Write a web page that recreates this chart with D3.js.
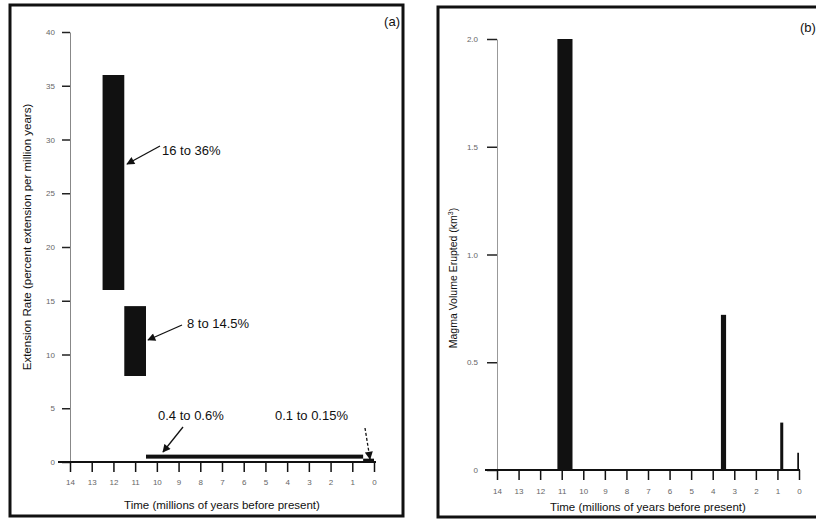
<!DOCTYPE html>
<html>
<head>
<meta charset="utf-8">
<script src="https://cdn.jsdelivr.net/npm/d3@7"></script>
<style>
  body { margin: 0; background: #fff; }
  svg { font-family: "Liberation Sans", Arial, sans-serif; }
  .tick text { fill: #666; font-size: 8px; }
</style>
</head>
<body>
<svg id="chart" width="816" height="520"></svg>
<script>
// time axis ticks (millions of years before present)
const timeTicks = [14, 13, 12, 11, 10, 9, 8, 7, 6, 5, 4, 3, 2, 1, 0];

// panel (a) extension rate ranges
const extStart = [12.5, 11.5, 10.5, 0.5];
const extEnd = [11.5, 10.5, 0.5, 0];
const extLow = [16, 8, 0.4, 0.1];
const extHigh = [36, 14.5, 0.6, 0.15];
const extLabels = ["16 to 36%", "8 to 14.5%", "0.4 to 0.6%", "0.1 to 0.15%"];
const extTicks = [0, 5, 10, 15, 20, 25, 30, 35, 40];

// panel (b) erupted magma volume
const magmaStart = [11.2, 3.62, 0.87, 0.08];
const magmaEnd = [10.5, 3.38, 0.73, 0.0];
const magmaVolume = [2.0, 0.72, 0.22, 0.08];
const magmaTicks = [0, 0.5, 1.0, 1.5, 2.0];
const magmaTickLabels = ["0", "0.5", "1.0", "1.5", "2.0"];

const svg = d3.select("#chart");

svg.append("defs").append("marker")
  .attr("id", "arrow")
  .attr("viewBox", "0 0 10 10")
  .attr("refX", 9).attr("refY", 5)
  .attr("markerWidth", 10).attr("markerHeight", 8)
  .attr("markerUnits", "userSpaceOnUse")
  .attr("orient", "auto")
  .append("path").attr("d", "M0,0 L10,5 L0,10 z").attr("fill", "#111");

// ---------- panel (a) ----------
const gA = svg.append("g");
gA.append("rect").attr("x", 10).attr("y", 5).attr("width", 393).attr("height", 511)
  .attr("fill", "none").attr("stroke", "#111").attr("stroke-width", 3);

const xA = d3.scaleLinear().domain([14, 0]).range([70, 374]);
const yA = d3.scaleLinear().domain([0, 40]).range([462, 32]);

const yAxisA = gA.append("g").attr("transform", "translate(70,0)")
  .call(d3.axisLeft(yA).tickValues(extTicks).tickSize(8).tickSizeOuter(0).tickPadding(7));
yAxisA.select(".domain").attr("stroke", "#888").attr("stroke-width", 1);
yAxisA.selectAll(".tick line").attr("stroke", "#222").attr("stroke-width", 1.5);

const xAxisA = gA.append("g").attr("transform", "translate(0,462)")
  .call(d3.axisBottom(xA).tickValues(timeTicks).tickSize(10).tickSizeOuter(0).tickPadding(7));
xAxisA.select(".domain").remove();
xAxisA.selectAll(".tick line").attr("stroke", "#111").attr("stroke-width", 1.5);
gA.append("line").attr("x1", xA(14) - 12).attr("x2", xA(0) + 2)
  .attr("y1", yA(0)).attr("y2", yA(0)).attr("stroke", "#111").attr("stroke-width", 2);

gA.selectAll(".ext").data(extLow).enter().append("rect")
  .attr("class", "ext")
  .attr("x", (d, i) => xA(extStart[i]))
  .attr("width", (d, i) => xA(extEnd[i]) - xA(extStart[i]))
  .attr("y", (d, i) => {
    const h = yA(extLow[i]) - yA(extHigh[i]);
    return h < 4 ? yA((extLow[i] + extHigh[i]) / 2) - 2 : yA(extHigh[i]);
  })
  .attr("height", (d, i) => Math.max(4, yA(extLow[i]) - yA(extHigh[i])))
  .attr("fill", "#111");

// annotation placement: [text x, text y, arrow start x, y, arrow tip x, y]
const notes = [
  [162, 155, 160, 146, 127, 164, false],
  [187, 328, 182, 325, 148, 340, false],
  [158, 420, 183, 427, 163, 452, false],
  [275, 420, 365, 428, 370, 459, true]
];
notes.forEach((n, i) => {
  gA.append("text").attr("x", n[0]).attr("y", n[1])
    .attr("font-size", 13).attr("fill", "#111").text(extLabels[i]);
  gA.append("line").attr("x1", n[2]).attr("y1", n[3]).attr("x2", n[4]).attr("y2", n[5])
    .attr("stroke", "#111").attr("stroke-width", 1.3)
    .attr("stroke-dasharray", n[6] ? "3,2" : null)
    .attr("marker-end", "url(#arrow)");
});

gA.append("text").attr("x", 400).attr("y", 26).attr("text-anchor", "end")
  .attr("font-size", 13).attr("fill", "#111").text("(a)");
gA.append("text").attr("x", 222).attr("y", 509).attr("text-anchor", "middle")
  .attr("font-size", 11.5).attr("fill", "#111").text("Time (millions of years before present)");
gA.append("text").attr("transform", "translate(31,237) rotate(-90)").attr("text-anchor", "middle")
  .attr("font-size", 11.5).attr("fill", "#111")
  .text("Extension Rate (percent extension per million years)");

// ---------- panel (b) ----------
const gB = svg.append("g");
gB.append("rect").attr("x", 438).attr("y", 7).attr("width", 400).attr("height", 510)
  .attr("fill", "none").attr("stroke", "#111").attr("stroke-width", 3);

const xB = d3.scaleLinear().domain([14, 0]).range([497, 799]);
const yB = d3.scaleLinear().domain([0, 2]).range([470, 39]);

const yAxisB = gB.append("g").attr("transform", "translate(497,0)")
  .call(d3.axisLeft(yB).tickValues(magmaTicks).tickFormat((d, i) => magmaTickLabels[i])
    .tickSize(10).tickSizeOuter(0).tickPadding(9));
yAxisB.select(".domain").attr("stroke", "#999").attr("stroke-width", 1);
yAxisB.selectAll(".tick line").attr("stroke", "#222").attr("stroke-width", 1.5);

const xAxisB = gB.append("g").attr("transform", "translate(0,470)")
  .call(d3.axisBottom(xB).tickValues(timeTicks).tickSize(10).tickSizeOuter(0).tickPadding(8));
xAxisB.select(".domain").remove();
xAxisB.selectAll(".tick line").attr("stroke", "#111").attr("stroke-width", 1.5);
gB.append("line").attr("x1", xB(14) - 12).attr("x2", xB(0) + 1)
  .attr("y1", yB(0)).attr("y2", yB(0)).attr("stroke", "#111").attr("stroke-width", 2);

gB.selectAll(".mag").data(magmaVolume).enter().append("rect")
  .attr("class", "mag")
  .attr("x", (d, i) => xB(magmaStart[i]))
  .attr("width", (d, i) => Math.max(1.5, xB(magmaEnd[i]) - xB(magmaStart[i])))
  .attr("y", d => yB(d))
  .attr("height", d => yB(0) - yB(d))
  .attr("fill", "#111");

gB.append("text").attr("x", 800).attr("y", 32)
  .attr("font-size", 13).attr("fill", "#111").text("(b)");
gB.append("text").attr("x", 648).attr("y", 511).attr("text-anchor", "middle")
  .attr("font-size", 11.5).attr("fill", "#111").text("Time (millions of years before present)");
const tB = gB.append("text").attr("transform", "translate(457,278) rotate(-90)").attr("text-anchor", "middle")
  .attr("font-size", 10.5).attr("fill", "#111").text("Magma Volume Erupted (km");
tB.append("tspan").attr("font-size", 7).attr("dy", -4).text("3");
tB.append("tspan").attr("dy", 4).text(")");
</script>
</body>
</html>
